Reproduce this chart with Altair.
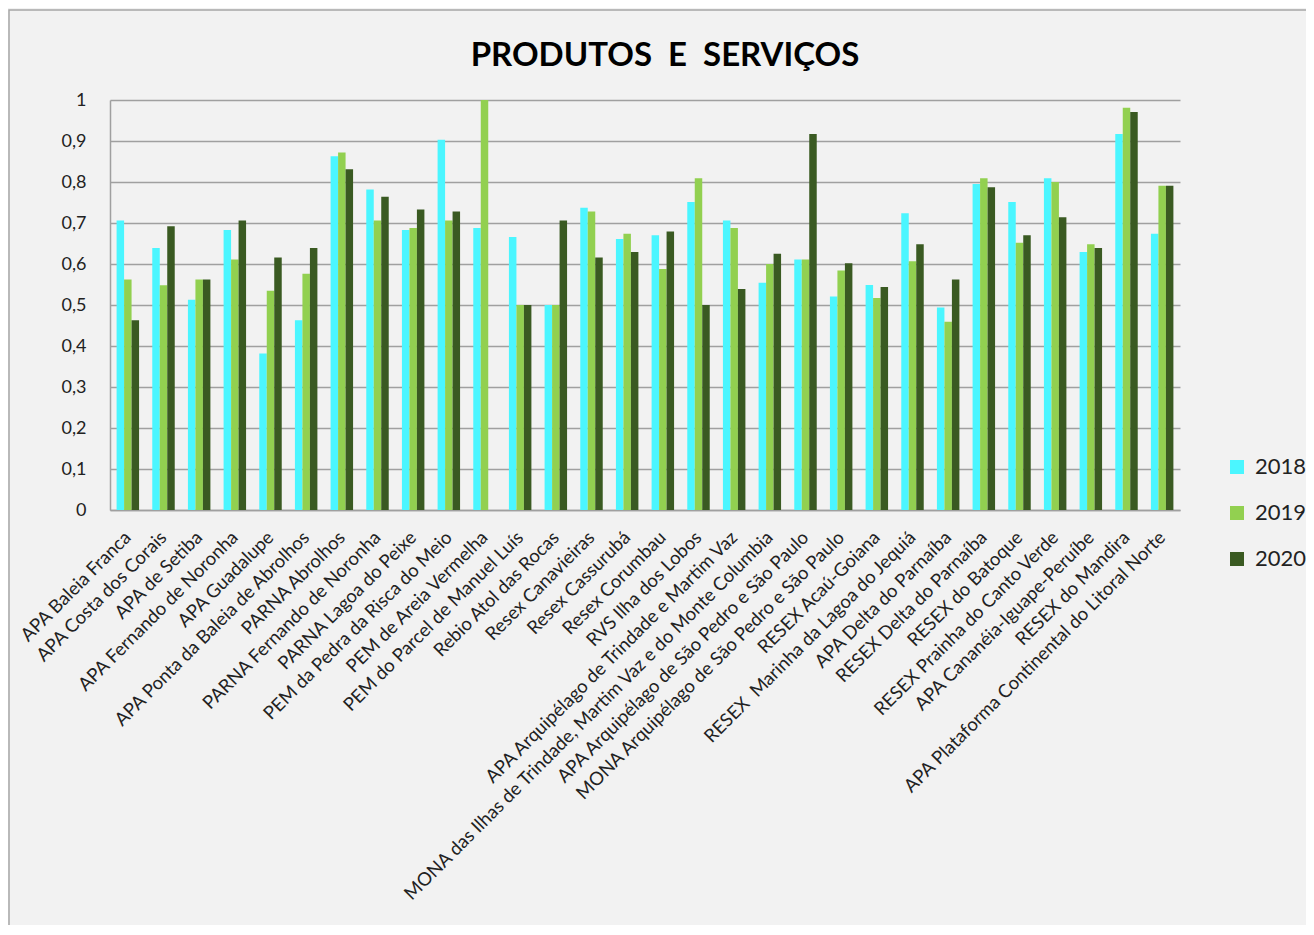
import altair as alt
import pandas as pd

categories = [
    "APA Baleia Franca",
    "APA Costa dos Corais",
    "APA de Setiba",
    "APA Fernando de Noronha",
    "APA Guadalupe",
    "APA Ponta da Baleia de Abrolhos",
    "PARNA Abrolhos",
    "PARNA Fernando de Noronha",
    "PARNA Lagoa do Peixe",
    "PEM da Pedra da Risca do Meio",
    "PEM de Areia Vermelha",
    "PEM do Parcel de Manuel Luís",
    "Rebio Atol das Rocas",
    "Resex Canavieiras",
    "Resex Cassurubá",
    "Resex Corumbau",
    "RVS Ilha dos Lobos",
    "APA Arquipélago de Trindade e Martim Vaz",
    "MONA das Ilhas de Trindade, Martim Vaz e do Monte Columbia",
    "APA Arquipélago de São Pedro e São Paulo",
    "MONA Arquipélago de São Pedro e São Paulo",
    "RESEX Acaú-Goiana",
    "RESEX\u00a0\u00a0Marinha da Lagoa do Jequiá",
    "APA Delta do Parnaíba",
    "RESEX Delta do Parnaíba",
    "RESEX do Batoque",
    "RESEX Prainha do Canto Verde",
    "APA Cananéia-Iguape-Peruíbe",
    "RESEX do Mandira",
    "APA Plataforma Continental do Litoral Norte",
]

v2018 = [0.706, 0.639, 0.513, 0.683, 0.382, 0.463, 0.863, 0.782, 0.683, 0.903,
         0.688, 0.666, 0.500, 0.737, 0.661, 0.670, 0.751, 0.706, 0.554, 0.611,
         0.521, 0.549, 0.724, 0.494, 0.795, 0.751, 0.809, 0.629, 0.917, 0.674]
v2019 = [0.562, 0.548, 0.562, 0.611, 0.535, 0.576, 0.872, 0.706, 0.688, 0.706,
         1.000, 0.500, 0.500, 0.728, 0.674, 0.588, 0.809, 0.688, 0.600, 0.611,
         0.584, 0.517, 0.607, 0.459, 0.809, 0.652, 0.800, 0.648, 0.981, 0.791]
v2020 = [0.463, 0.692, 0.562, 0.706, 0.616, 0.639, 0.831, 0.764, 0.733, 0.728,
         None, 0.500, 0.706, 0.616, 0.629, 0.679, 0.500, 0.539, 0.625, 0.917,
         0.602, 0.544, 0.648, 0.562, 0.787, 0.670, 0.714, 0.639, 0.971, 0.791]

years = ["2018", "2019", "2020"]
colors = ["#4BF6FF", "#92D050", "#3A5A22"]
y_ticks = [0, 0.1, 0.2, 0.3, 0.4, 0.5, 0.6, 0.7, 0.8, 0.9, 1]
title_text = "PRODUTOS\u00a0\u00a0E\u00a0\u00a0SERVIÇOS"

rows = []
for i, cat in enumerate(categories):
    for yr, vals in zip(years, [v2018, v2019, v2020]):
        if vals[i] is not None:
            rows.append({"unidade": cat, "ano": yr, "valor": vals[i]})
df = pd.DataFrame(rows)

FONT = "Lato"
GRID = "#a0a0a0"

bars = alt.Chart(df).mark_bar().encode(
    x=alt.X(
        "unidade:N",
        sort=categories,
        scale=alt.Scale(paddingInner=0.37, paddingOuter=0.185),
        axis=alt.Axis(
            title=None, labelAngle=-45, labelAlign="right", labelBaseline="middle",
            labelFontSize=18.5, labelPadding=24, ticks=False, grid=False,
            domainColor=GRID, domainWidth=1.5, labelLimit=700, labelColor="#222222",
        ),
    ),
    xOffset=alt.XOffset("ano:N", sort=years, scale=alt.Scale(paddingInner=0, paddingOuter=0)),
    y=alt.Y(
        "valor:Q",
        scale=alt.Scale(domain=[0, 1], nice=False),
        axis=alt.Axis(
            title=None, values=y_ticks, ticks=False, labelPadding=24, labelFontSize=18,
            labelColor="#222222", domainColor=GRID, domainWidth=1.5,
            gridColor=GRID, gridWidth=1.5,
            labelExpr="datum.value == 0 ? '0' : datum.value == 1 ? '1' : replace(format(datum.value, '.1f'), '.', ',')",
        ),
    ),
    color=alt.Color(
        "ano:N",
        scale=alt.Scale(domain=years, range=colors),
        legend=alt.Legend(
            title=None, orient="none", legendX=1116, legendY=356,
            symbolType="square", symbolSize=196, symbolStrokeWidth=0,
            labelFontSize=22, labelOffset=7, rowPadding=24, padding=0,
            labelColor="#222222",
        ),
    ),
)

frame = alt.Chart(pd.DataFrame({"a": [0]})).mark_rect(
    fillOpacity=0, stroke="#a6a6a6", strokeWidth=1.5
).encode(
    x=alt.value(-101), y=alt.value(-90), x2=alt.value(1400), y2=alt.value(1000)
)

title = alt.Chart(pd.DataFrame({"t": [title_text]})).mark_text(
    font=FONT, fontSize=33, fontWeight="bold", color="#000000",
    align="center", baseline="alphabetic",
).encode(
    text="t:N", x=alt.value(555), y=alt.value(-34)
)

chart = alt.layer(frame, bars, title).properties(
    width=1070,
    height=410,
    autosize=alt.AutoSizeParams(type="none"),
    padding={"left": 102, "top": 92, "right": 126, "bottom": 415},
    background="#f2f2f2",
).configure_view(stroke=None).configure_axis(labelFont=FONT).configure_legend(labelFont=FONT)

chart.save("out.html", embed_options={"renderer": "svg", "actions": False})
